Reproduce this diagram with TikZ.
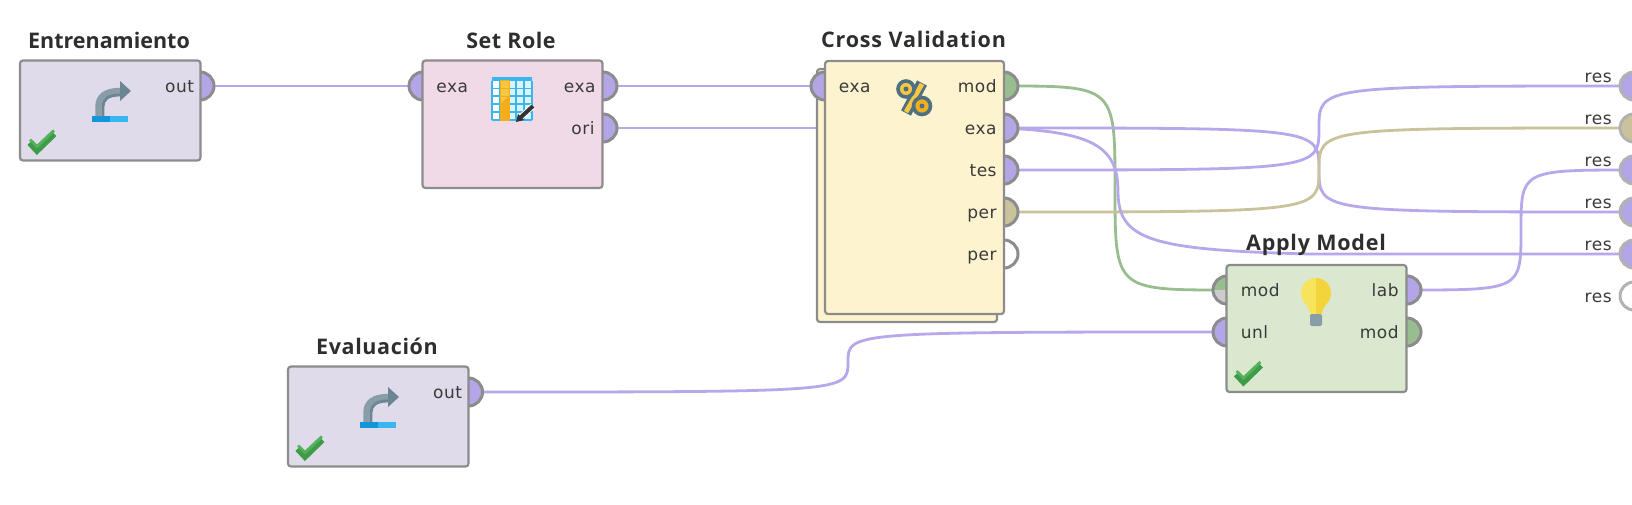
\documentclass[tikz,border=0pt]{standalone}
\usepackage{fontspec}
\setmainfont[LetterSpace=3]{DejaVu Sans}
\newfontfamily\titlefont{Open Sans}
\usetikzlibrary{calc,backgrounds}
\definecolor{bordergray}{HTML}{8C8C8C}
\definecolor{boxP}{HTML}{DFDBEB}
\definecolor{boxR}{HTML}{F1DAE8}
\definecolor{boxY}{HTML}{FDF3CF}
\definecolor{boxG}{HTML}{DAE8CF}
\definecolor{portP}{HTML}{B3A5E6}
\definecolor{portG}{HTML}{98BD8F}
\definecolor{portT}{HTML}{C9C29B}
\definecolor{wireP}{HTML}{B6A8EA}
\definecolor{wireG}{HTML}{98BD8F}
\definecolor{wireT}{HTML}{C9C29B}
\definecolor{txt}{HTML}{3A3A3A}
\definecolor{blueD}{HTML}{1296DB}
\definecolor{blueL}{HTML}{38B6EF}
\definecolor{slate}{HTML}{6B8592}
\definecolor{slateD}{HTML}{4F7080}
\definecolor{amber}{HTML}{F2AE1C}
\definecolor{amberL}{HTML}{F7C744}
\definecolor{bulbL}{HTML}{F8E45C}
\definecolor{bulbR}{HTML}{F5D33B}
\definecolor{cellB}{HTML}{DDF3FC}
\definecolor{checkL}{HTML}{55B25C}
\definecolor{checkD}{HTML}{3E9B47}
\tikzset{
  opbox/.style={draw=bordergray,line width=1.1pt,rounded corners=1.5pt,anchor=north west,inner sep=0pt,outer sep=0pt},
  port/.style={circle,draw=bordergray,line width=1.5pt,minimum size=14pt,inner sep=0pt,outer sep=0pt},
  resport/.style={port,draw=gray!60},
  wirebase/.style={line width=1.4pt},
  title/.style={font=\titlefont\bfseries\fontsize{10.75}{12}\selectfont,text=black!82,inner sep=0pt},
  plabel/.style={font=\fontsize{8.5}{10}\selectfont,text=txt,inner sep=0pt},
  lplabel/.style={plabel,anchor=base west},
  rplabel/.style={plabel,anchor=base east},
  pics/retrieveicon/.style={code={
    \fill[blueD] (72,55.5) rectangle (90,61.5);
    \fill[blueL] (90,55.5) rectangle (108,61.5);
    \draw[slate!80,line width=3.2pt] (78.5,55.5) -- (78.5,46) .. controls (78.5,36) and (86,30.5) .. (100,30.5);
    \draw[slate,line width=1.4pt] (83,55.5) -- (83,46) .. controls (83,39) and (88,34.5) .. (100,34.5);
    \fill[slate] (100,20.5) -- (111,30.5) -- (100,40.5) -- cycle;
  }},
  pics/okicon/.style={code={
    \draw[checkD,line width=3.5pt] (10,-18) -- (17,-10.5) -- (34,-27);
    \draw[checkL,line width=1.4pt] (10,-21) -- (17,-14) -- (34,-30);
  }}
}
% style, from, to, bend coordinate
\newcommand{\sconn}[4]{%
  \coordinate (hlp) at ($(#2.center)!.5!(#3.center)$);
  \draw[wirebase,#1] (#2.center) .. controls (#2.center -| #4) and (#2.center -| #4) .. (hlp -| #4)
     .. controls (#3.center -| #4) and (#3.center -| #4) .. (#3.center);
}
\begin{document}
\begin{tikzpicture}[x=0.5pt,y=-0.5pt]
\path[use as bounding box] (0,0) rectangle (1632,504);
% ports
\node[port,fill=portP] (entOut) at (200,86) {};
\node[port,fill=portP] (srIn) at (423,86) {};
\node[port,fill=portP] (srExa) at (603,86) {};
\node[port,fill=portP] (srOri) at (603,128) {};
\node[opbox,fill=boxY,minimum width=90pt,minimum height=126.5pt] (cvBack) at (817,69) {};
\node[port,fill=portP] (cvIn) at (825,86) {};
\node[port,fill=portG] (cvMod) at (1004,86) {};
\node[port,fill=portP] (cvExa) at (1004,128) {};
\node[port,fill=portP] (cvTes) at (1004,170) {};
\node[port,fill=portT] (cvPer) at (1004,212) {};
\node[port,fill=white] (cvPerB) at (1004,254) {};
\node[port,fill=black!20,path picture={\fill[portG] (path picture bounding box.north west) rectangle (path picture bounding box.east);}] (amMod) at (1227,290) {};
\node[port,fill=portP] (amUnl) at (1227,332) {};
\node[port,fill=portP] (amLab) at (1407,290) {};
\node[port,fill=portG] (amModOut) at (1407,332) {};
\node[port,fill=portP] (evOut) at (468.5,392) {};
\node[resport,fill=portP] (res1) at (1634,86) {};
\node[resport,fill=portT] (res2) at (1634,128) {};
\node[resport,fill=portP] (res3) at (1634,170) {};
\node[resport,fill=portP] (res4) at (1634,212) {};
\node[resport,fill=portP] (res5) at (1634,254) {};
\node[resport,fill=white] (res6) at (1634,296) {};
% boxes
\node[opbox,fill=boxP,minimum width=90.25pt,minimum height=50pt] (ent) at (20,60.5) {};
\node[opbox,fill=boxR,minimum width=90pt,minimum height=63.75pt] (sr) at (422.5,60.5) {};
\node[opbox,fill=boxY,minimum width=89.5pt,minimum height=126.5pt] (cv) at (825,61) {};
\node[opbox,fill=boxG,minimum width=90pt,minimum height=63.5pt] (am) at (1226.5,265) {};
\node[opbox,fill=boxP,minimum width=90.25pt,minimum height=50pt] (ev) at (288,366.5) {};
% titles
\node[title] (entT) at (109,40.5) {Entrenamiento};
\node[title] (srT) at (511,40.5) {\addfontfeature{LetterSpace=2.4}Set Role};
\node[title] (cvT) at (913.5,39.5) {\addfontfeature{LetterSpace=4}Cross Validation};
\node[title] (amT) at (1316,245) {\addfontfeature{LetterSpace=3.5}Apply Model};
\node[title] (evT) at (377,346.5) {\addfontfeature{LetterSpace=2.9}Evaluación};
% port labels
\node[rplabel] (lEntOut) at (194.5,92) {out};
\node[lplabel] (lSrIn) at (436,92) {exa};
\node[rplabel] (lSrExa) at (596,92) {exa};
\node[rplabel] (lSrOri) at (595,134) {ori};
\node[lplabel] (lCvIn) at (838.5,92) {exa};
\node[rplabel] (lCvMod) at (997,92) {mod};
\node[rplabel] (lCvExa) at (997,134) {exa};
\node[rplabel] (lCvTes) at (997,176) {tes};
\node[rplabel] (lCvPer) at (997,218) {per};
\node[rplabel] (lCvPerB) at (997,260) {per};
\node[lplabel] (lAmMod) at (1240.5,296) {mod};
\node[lplabel] (lAmUnl) at (1240.5,338) {unl};
\node[rplabel] (lAmLab) at (1399,296) {lab};
\node[rplabel] (lAmModO) at (1399,338) {mod};
\node[rplabel] (lEvOut) at (462.5,398) {out};
\node[rplabel] (lRes1) at (1612,82) {res};
\node[rplabel] (lRes2) at (1612,124) {res};
\node[rplabel] (lRes3) at (1612,166) {res};
\node[rplabel] (lRes4) at (1612,208) {res};
\node[rplabel] (lRes5) at (1612,250) {res};
\node[rplabel] (lRes6) at (1612,302) {res};
% icons
\pic at (20,60.5) {retrieveicon};
\pic at (288,366.5) {retrieveicon};
\pic at (20,160.5) {okicon};
\pic at (288,466.5) {okicon};
\pic at (1226.5,392) {okicon};
% table icon
\fill[white] (492,77) rectangle (532,120);
\fill[cellB] (509,80) rectangle (532,120);
\draw[blueL,line width=0.6pt] (492,81) -- (492,120) (500,81) -- (500,120) (508,81) -- (508,120) (516,81) -- (516,120) (524,81) -- (524,120) (532,81) -- (532,120)
  (492,88.5) -- (532,88.5) (492,96) -- (532,96) (492,104) -- (532,104) (492,112) -- (532,112) (492,120) -- (532,120);
\fill[blueL] (492,77) rectangle (532,81);
\fill[amberL] (500,80) rectangle (509,120);
\fill[amber] (500,104) -- (509,96) -- (509,120) -- (500,120) -- cycle;
\draw[amber,line width=0.5pt] (500,88.5) -- (509,88.5) (500,96) -- (509,96) (500,104) -- (509,104) (500,112) -- (509,112) (500,80) rectangle (509,120);
\draw[white,line width=3pt] (520,118) -- (533,106);
\draw[black!80,line width=2pt] (520,118) -- (533,106);
\fill[black!80] (516,122) -- (518,114) -- (524,120) -- cycle;
% percent icon
\draw[slateD,line width=5.6pt] (922,83) -- (906,113);
\draw[amberL,line width=2.4pt] (922,84) -- (906,112);
\draw[slateD,fill=amberL,line width=1.8pt] (906,89) circle[radius=8];
\fill[slateD] (906,89) circle[radius=2.5];
\draw[slateD,fill=amber,line width=1.8pt] (922,106) circle[radius=8.5];
\fill[slateD] (922,106) circle[radius=2.5];
% bulb icon
\fill[bulbL] (1316,278) arc[start angle=270,end angle=90,radius=15] -- cycle;
\fill[bulbR] (1316,278) arc[start angle=270,end angle=450,radius=15] -- cycle;
\fill[bulbL] (1316,303) -- (1302.5,300) .. controls (1306,305) and (1310,308) .. (1310,314) -- (1316,314) -- cycle;
\fill[bulbR] (1316,303) -- (1329.5,300) .. controls (1326,305) and (1322,308) .. (1322,314) -- (1316,314) -- cycle;
\fill[slate!80,rounded corners=1pt] (1310,314) rectangle (1322,326);
% connectors
\begin{pgfonlayer}{background}
\coordinate (bA) at (1319,0);
\coordinate (bM) at (1115,0);
\coordinate (bL) at (1521,0);
\coordinate (bE) at (848,0);
\draw[wirebase,wireP] (entOut.center) -- (srIn.center);
\draw[wirebase,wireP] (srExa.center) -- (cvIn.center);
\draw[wirebase,wireP] (srOri.center) -- (cvBack.west |- srOri.center);
\sconn{wireG}{cvMod}{amMod}{bM}
\sconn{wireP}{cvExa}{res4}{bA}
\sconn{wireP}{cvTes}{res1}{bA}
\sconn{wireT}{cvPer}{res2}{bA}
\sconn{wireP}{amLab}{res3}{bL}
\sconn{wireP}{evOut}{amUnl}{bE}
\draw[wirebase,wireP] (cvExa.center) .. controls (1090,132) and (1118,145) .. (1118,191) .. controls (1118,240) and (1150,250) .. (1310,254) -- (res5.center);
\end{pgfonlayer}
\end{tikzpicture}
\end{document}
